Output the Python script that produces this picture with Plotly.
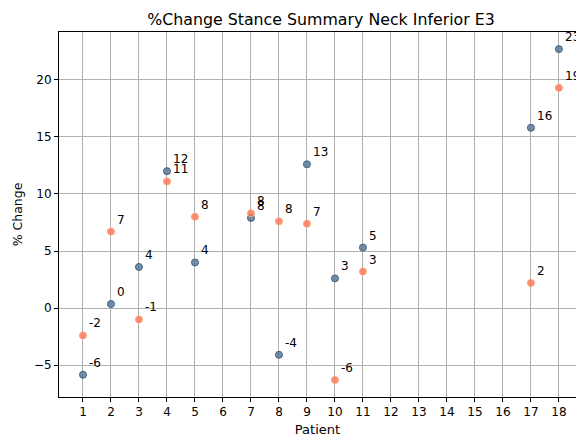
import plotly.graph_objects as go

patients_blue = [1, 2, 3, 4, 5, 7, 8, 9, 10, 11, 17, 18]
values_blue = [-5.85, 0.35, 3.6, 12.0, 4.0, 7.9, -4.1, 12.6, 2.6, 5.3, 15.8, 22.7]
patients_orange = [1, 2, 3, 4, 5, 7, 8, 9, 10, 11, 17, 18]
values_orange = [-2.4, 6.7, -1.0, 11.1, 8.0, 8.3, 7.6, 7.4, -6.3, 3.2, 2.2, 19.3]
x_ticks = list(range(1, 19))
y_ticks = [-5, 0, 5, 10, 15, 20]

fig = go.Figure()
fig.add_trace(go.Scatter(
    x=patients_blue, y=values_blue, mode="markers",
    marker=dict(size=7, color="rgba(80,115,150,0.8)", line=dict(color="#45627c", width=1)),
    showlegend=False, hoverinfo="skip"))
fig.add_trace(go.Scatter(
    x=patients_orange, y=values_orange, mode="markers",
    marker=dict(size=7, color="rgba(250,115,85,0.8)", line=dict(color="#ffa070", width=1)),
    showlegend=False, hoverinfo="skip"))

annotations = []
for xs, ys in ((patients_blue, values_blue), (patients_orange, values_orange)):
    for x, y in zip(xs, ys):
        annotations.append(dict(
            x=x, y=y, xref="x", yref="y", text=f"{y:.0f}", showarrow=False,
            xanchor="left", yanchor="bottom", xshift=4, yshift=3,
            font=dict(family="DejaVu Sans", size=12, color="black")))

fig.update_layout(
    width=576, height=439,
    margin=dict(l=59, r=0, t=32, b=42),
    paper_bgcolor="white", plot_bgcolor="white",
    font=dict(family="DejaVu Sans", size=12, color="black"),
    title=dict(text="%Change Stance Summary Neck Inferior E3", x=321/576, xref="container",
               xanchor="center", y=1 - 19/439, yref="container", yanchor="middle",
               font=dict(size=15.8, color="black")),
    annotations=annotations,
    xaxis=dict(range=[0.143, 18.61], tickvals=x_ticks, ticktext=[str(t) for t in x_ticks],
               showgrid=True, gridcolor="#b0b0b0", gridwidth=0.8, zeroline=False,
               showline=True, linecolor="black", linewidth=1, mirror=True,
               ticks="outside", ticklen=4, tickcolor="black",
               title=dict(text="Patient", standoff=6, font=dict(size=13))),
    yaxis=dict(range=[-7.8, 24.2], tickvals=y_ticks,
               showgrid=True, gridcolor="#b0b0b0", gridwidth=0.8, zeroline=False,
               showline=True, linecolor="black", linewidth=1, mirror=False,
               ticks="outside", ticklen=4, tickcolor="black",
               title=dict(text="% Change", standoff=8, font=dict(size=12.5))),
)

fig.write_html("out.html")
